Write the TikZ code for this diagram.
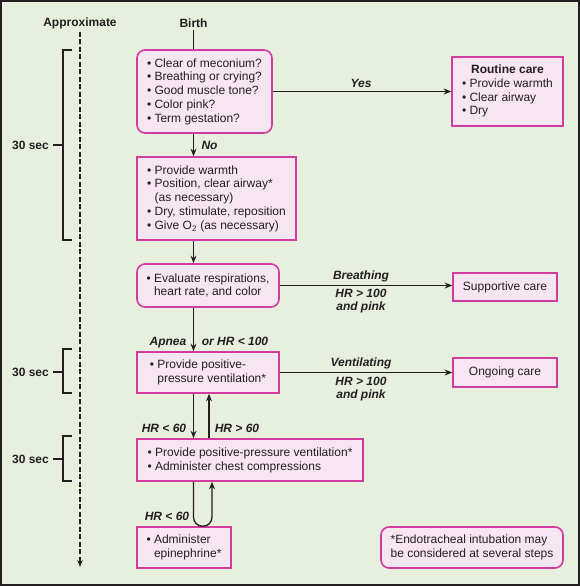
\documentclass[tikz,border=0pt]{standalone}
\usepackage{fontspec}
\setmainfont{Liberation Sans}
\usetikzlibrary{arrows.meta}
\definecolor{bg}{HTML}{E7F0DF}
\definecolor{boxfill}{HTML}{F6E6F2}
\definecolor{boxline}{HTML}{D23C9E}
\definecolor{ink}{HTML}{231F20}
\newcommand{\bu}{\makebox[7.5pt][l]{\textbullet}}
\newcommand{\ind}{\hspace*{7.5pt}}
\begin{document}
\begin{tikzpicture}[x=1pt,y=-1pt,
  every node/.style={font=\fontsize{12}{13.8}\selectfont, text=ink},
  sqbox/.style={draw=boxline, fill=boxfill, line width=1.6pt, align=left, inner sep=0pt},
  rbox/.style={sqbox, rounded corners=8pt},
  lbl/.style={font=\fontsize{12}{13.8}\selectfont\bfseries\itshape, align=center, inner sep=0pt},
  hd/.style={font=\fontsize{12}{13.8}\selectfont\bfseries, inner sep=0pt},
  conn/.style={draw=ink, line width=1.3pt},
  arr/.style={conn, -{Stealth[length=7.5pt,width=6pt]}},
  brk/.style={draw=ink, line width=1.2pt}
]
\useasboundingbox (0,0) rectangle (580,586);
\fill[bg] (0,0) rectangle (580,586);
\draw[ink, line width=2pt] (1,1) rectangle (578.5,584.5);

% left column
\node[hd] (appr) at (80,23) {Approximate};
\coordinate (dbot) at (80,567);
\draw[conn, line width=1.2pt, dash pattern=on 5pt off 2.5pt, -{Stealth[length=7pt,width=5.5pt]}] (appr.south) ++(0,3) -- (dbot);

\node[hd, anchor=east] (s1) at (49,145) {30 sec};
\node[hd, anchor=east] (s2) at (49,372) {30 sec};
\node[hd, anchor=east] (s3) at (49,459) {30 sec};
\draw[brk] (72,50) -- (63,50) -- (63,240) -- (72,240);
\draw[brk] (s1.east) ++(4,0) -- (63,145);
\draw[brk] (72,349) -- (63,349) -- (63,393) -- (72,393);
\draw[brk] (s2.east) ++(4,0) -- (63,372);
\draw[brk] (72,436) -- (63,436) -- (63,481) -- (72,481);
\draw[brk] (s3.east) ++(4,0) -- (63,459);

% main column
\node[hd] (birth) at (193.5,23) {Birth};
\node[rbox, minimum width=135pt, minimum height=83pt] (b1) at (204.5,91.5)
  {\bu Clear of meconium?\\ \bu Breathing or crying?\\ \bu Good muscle tone?\\ \bu Color pink?\\ \bu Term gestation?};
\node[sqbox, minimum width=159pt, minimum height=83pt] (b2) at (216.5,198.5)
  {\bu Provide warmth\\ \bu Position, clear airway*\\ \ind(as necessary)\\ \bu Dry, stimulate, reposition\\ \bu Give O\textsubscript{2} (as necessary)};
\node[rbox, minimum width=142pt, minimum height=43pt] (b3) at (208,285.5)
  {\bu Evaluate respirations,\\ \ind heart rate, and color};
\node[sqbox, minimum width=142pt, minimum height=41pt] (b4) at (208,372.5)
  {\bu Provide positive-\\ \ind pressure ventilation*};
\node[sqbox, minimum width=226pt, minimum height=42pt] (b5) at (250,460)
  {\bu Provide positive-pressure ventilation*\\ \bu Administer chest compressions};
\node[sqbox, minimum width=94pt, minimum height=41pt] (b6) at (184,547.5)
  {\bu Administer\\ \ind epinephrine*};
\node[rbox, minimum width=182pt, minimum height=41pt] (fn) at (472,547.5)
  {*Endotracheal intubation may\\ be considered at several steps};

% right column
\node[sqbox, minimum width=111pt, minimum height=69pt] (rout) at (507.5,91.5)
  {\begin{tabular}{@{}l@{}}\multicolumn{1}{@{}c@{}}{\bfseries Routine care}\\ \bu Provide warmth\\ \bu Clear airway\\ \bu Dry\end{tabular}};
\node[sqbox, minimum width=104pt, minimum height=28pt] (sup) at (505,287) {Supportive care};
\node[sqbox, minimum width=104pt, minimum height=29pt] (ong) at (505,372.5) {Ongoing care};

% x positions of vertical connectors
\coordinate (xa) at (193.5,0);
\coordinate (xb) at (209,0);
\coordinate (xc) at (212,0);

% connectors
\draw[conn] (birth.south) ++(0,2) -- (xa |- b1.north);
\draw[arr] (xa |- b1.south) -- (xa |- b2.north);
\draw[arr] (b1.east |- rout.west) -- (rout.west);
\draw[arr] (xa |- b2.south) -- (xa |- b3.north);
\draw[arr] (b3.east) -- (b3.east -| sup.west);
\draw[arr] (xa |- b3.south) -- (xa |- b4.north);
\draw[arr] (b4.east) -- (b4.east -| ong.west);
\draw[arr] (xa |- b4.south) -- (xa |- b5.north);
\draw[arr] (xb |- b5.north) -- (xb |- b4.south);
\draw[arr, rounded corners=9pt] (xa |- b5.south) -- (xa |- b6.north) -- (xc |- b6.north) -- (xc |- b5.south);

% labels
\node[lbl] (lno) at (209.5,145) {No};
\node[lbl] (lyes) at (361,83) {Yes};
\node[lbl] (lbr) at (361,276) {Breathing};
\node[lbl] (lhr1) at (361,301) {HR > 100\\and pink};
\node[lbl] (lven) at (361,363) {Ventilating};
\node[lbl] (lhr2) at (361,389) {HR > 100\\and pink};
\node[lbl, anchor=base] (lap) at (168,345.5) {Apnea};
\node[lbl, anchor=base] (lor) at (235,345.5) {or HR < 100};
\node[lbl] (l60a) at (164,428) {HR < 60};
\node[lbl] (l60b) at (237,428) {HR > 60};
\node[lbl] (l60c) at (167,516) {HR < 60};
\end{tikzpicture}
\end{document}
